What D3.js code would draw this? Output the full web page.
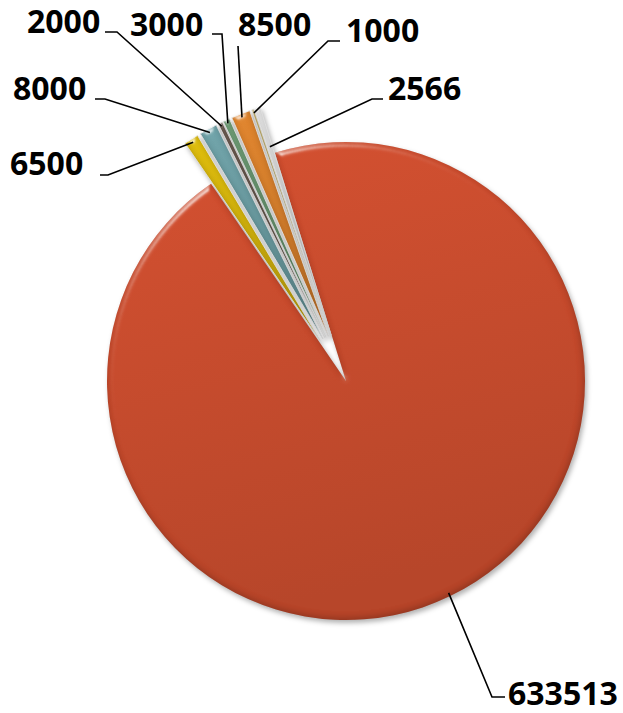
<!DOCTYPE html>
<html>
<head>
<meta charset="utf-8">
<script src="https://d3js.org/d3.v7.min.js"></script>
<style>
  body { margin: 0; background: #fff; }
  .label { font-family: "Open Sans", sans-serif; font-weight: 700; font-size: 32px; fill: #000; }
  .leader { fill: none; stroke: #000; stroke-width: 1.6; }
</style>
</head>
<body>
<div id="vis"></div>
<script>
// slice values, in drawing order (clockwise)
const values = [633513, 6500, 8000, 2000, 3000, 8500, 1000, 2566];
const labels = ["633513", "6500", "8000", "2000", "3000", "8500", "1000", "2566"];
const colors = ["#CC4C2D", "#D8B70C", "#6C9EA4", "#6A5A50", "#6C9A73", "#D9802C", "#C9B56C", "#E4E4E4"];

// label placement (text left / baseline, knee of leader, end of the short horizontal part)
const LABEL_POS = [
  {tx: 508, ty: 705, kx: 492, ky: 697, hx: 505, rf: 0.985},
  {tx: 10,  ty: 175, kx: 108, ky: 175, hx: 100, rf: 0.985},
  {tx: 13,  ty: 100, kx: 105, ky: 99,  hx: 95,  rf: 0.985},
  {tx: 27,  ty: 33,  kx: 117, ky: 32,  hx: 105, rf: 0.985},
  {tx: 130, ty: 36,  kx: 222, ky: 34,  hx: 212, rf: 0.985},
  {tx: 238, ty: 36,  kx: 238, ky: 46,  hx: 238, rf: 0.985},
  {tx: 346, ty: 42,  kx: 328, ky: 41,  hx: 340, rf: 0.985},
  {tx: 388, ty: 100, kx: 372, ky: 99,  hx: 383, rf: 0.83}
];

const WIDTH = 623;
const HEIGHT = 713;
const CENTER = {x: 346, y: 381};
const RADIUS = 239;
const EXPLODE = 48;            // small slices pulled out, the big one stays
const START = -17.3 * Math.PI / 180;

const SVG = d3.select("#vis")
                .append("svg")
                    .attr("width", WIDTH)
                    .attr("height", HEIGHT);

const defs = SVG.append("defs");

// soft shadow under the pie
const shadow = defs.append("filter")
                    .attr("id", "shadow")
                    .attr("color-interpolation-filters", "sRGB")
                    .attr("x", "-20%").attr("y", "-20%")
                    .attr("width", "140%").attr("height", "140%");
shadow.append("feDropShadow")
        .attr("dx", 2).attr("dy", 3)
        .attr("stdDeviation", 2.5)
        .attr("flood-color", "#000")
        .attr("flood-opacity", 0.3);

// bevel look: specular highlight on the upper-left rim, dark band on the lower-right rim
const bevel = defs.append("filter")
                    .attr("id", "bevel")
                    .attr("color-interpolation-filters", "sRGB")
                    .attr("x", "-10%").attr("y", "-10%")
                    .attr("width", "120%").attr("height", "120%");
bevel.append("feGaussianBlur")
        .attr("in", "SourceAlpha").attr("stdDeviation", 3).attr("result", "blur");
const spec = bevel.append("feSpecularLighting")
        .attr("in", "blur").attr("surfaceScale", 4)
        .attr("specularConstant", 0.7).attr("specularExponent", 25)
        .attr("lighting-color", "#ffffff").attr("result", "spec");
spec.append("feDistantLight").attr("azimuth", 240).attr("elevation", 25);
bevel.append("feComposite")
        .attr("in", "spec").attr("in2", "SourceAlpha")
        .attr("operator", "in").attr("result", "specIn");
bevel.append("feOffset")
        .attr("in", "blur").attr("dx", -1.5).attr("dy", -2.5).attr("result", "offBlur");
bevel.append("feComposite")
        .attr("in", "SourceAlpha").attr("in2", "offBlur")
        .attr("operator", "out").attr("result", "edge");
bevel.append("feFlood").attr("flood-color", "#000").attr("flood-opacity", 0.22);
bevel.append("feComposite").attr("in2", "edge").attr("operator", "in").attr("result", "edgeShade");
const merge = bevel.append("feMerge");
merge.append("feMergeNode").attr("in", "SourceGraphic");
merge.append("feMergeNode").attr("in", "edgeShade");
merge.append("feMergeNode").attr("in", "specIn");

// light-to-dark gradient for every slice colour
colors.forEach((c, i) => {
    const g = defs.append("linearGradient")
                    .attr("id", "grad" + i)
                    .attr("x1", 0).attr("y1", 0)
                    .attr("x2", 0.25).attr("y2", 1);
    g.append("stop").attr("offset", "0%").attr("stop-color", d3.color(c).brighter(0.12));
    g.append("stop").attr("offset", "100%").attr("stop-color", d3.color(c).darker(0.3));
});

const pie = d3.pie()
                .sort(null)
                .startAngle(START)
                .endAngle(START + 2 * Math.PI);
const arcs = pie(values);

const arc = d3.arc()
                .innerRadius(0)
                .outerRadius(RADIUS);

const explodeOf = (i) => (i === 0 ? 0 : EXPLODE);

const offset = (d, dist) => {
    const m = (d.startAngle + d.endAngle) / 2;
    return [dist * Math.sin(m), -dist * Math.cos(m)];
};

const PIE = SVG.append("g")
                .attr("transform", "translate(" + CENTER.x + "," + CENTER.y + ")")
                .attr("filter", "url(#shadow)");

PIE.selectAll("path")
    .data(arcs)
    .enter()
    .append("path")
        .attr("d", arc)
        .attr("transform", (d, i) => {
            const o = offset(d, explodeOf(i));
            return "translate(" + o[0] + "," + o[1] + ")";
        })
        .attr("fill", (d, i) => "url(#grad" + i + ")")
        .attr("stroke", "#ffffff")
        .attr("stroke-width", (d, i) => (i === 0 ? 0 : 0.8))
        .attr("filter", "url(#bevel)");

// leader lines
SVG.selectAll(".leader")
    .data(arcs)
    .enter()
    .append("polyline")
        .attr("class", "leader")
        .attr("points", (d, i) => {
            const p = LABEL_POS[i];
            const o = offset(d, RADIUS * p.rf + explodeOf(i));
            return [[CENTER.x + o[0], CENTER.y + o[1]], [p.kx, p.ky], [p.hx, p.ky]]
                    .map((q) => q.join(",")).join(" ");
        });

SVG.selectAll(".label")
    .data(labels)
    .enter()
    .append("text")
        .attr("class", "label")
        .attr("x", (d, i) => LABEL_POS[i].tx)
        .attr("y", (d, i) => LABEL_POS[i].ty)
        .text((d) => d);
</script>
</body>
</html>
